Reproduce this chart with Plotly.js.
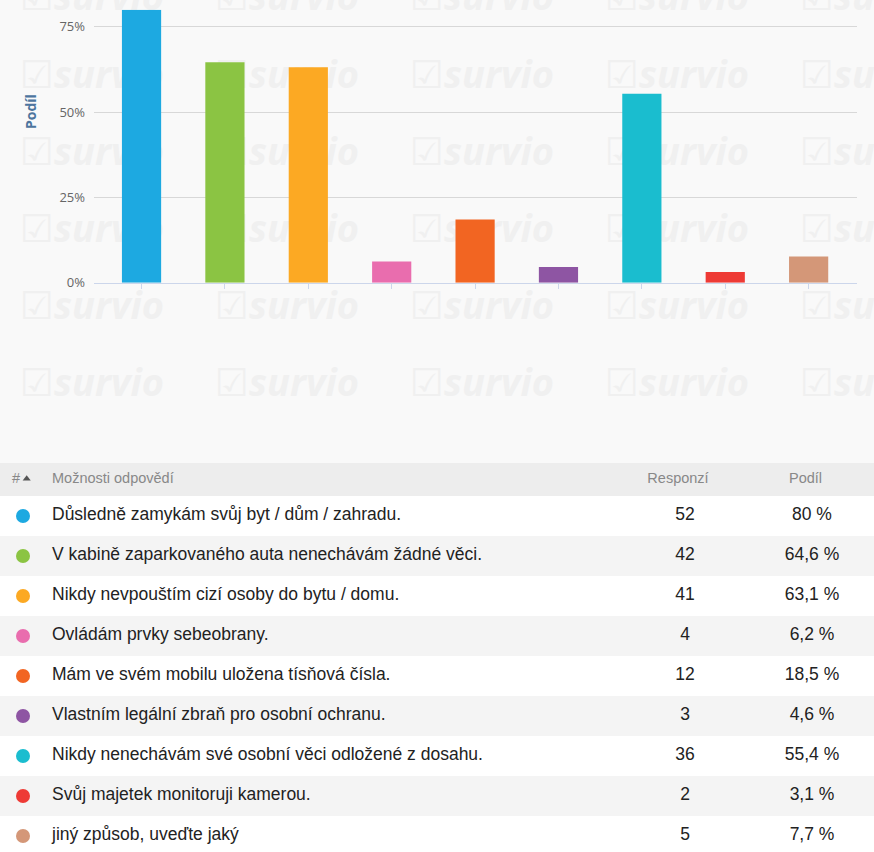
<!DOCTYPE html>
<html><head><meta charset="utf-8">
<script src="https://cdn.plot.ly/plotly-3.0.1.min.js"></script>
<style>html,body{margin:0;padding:0;background:#f9f9f9;overflow:hidden}</style>
</head><body><div id="chart" style="width:874px;height:852px"></div>
<script>
// ---- data ----
const categories = [
  'Důsledně zamykám svůj byt / dům / zahradu.',
  'V kabině zaparkovaného auta nenechávám žádné věci.',
  'Nikdy nevpouštím cizí osoby do bytu / domu.',
  'Ovládám prvky sebeobrany.',
  'Mám ve svém mobilu uložena tísňová čísla.',
  'Vlastním legální zbraň pro osobní ochranu.',
  'Nikdy nenechávám své osobní věci odložené z dosahu.',
  'Svůj majetek monitoruji kamerou.',
  'jiný způsob, uveďte jaký'
];
const responses = [52, 42, 41, 4, 12, 3, 36, 2, 5];
const shares = [80, 64.6, 63.1, 6.2, 18.5, 4.6, 55.4, 3.1, 7.7];
const colors = ['#1da9e1', '#8bc443', '#fca923', '#e96dae', '#f26522', '#8e55a3', '#1abdcf', '#ee3a35', '#d49778'];
const yTickVals = [0, 25, 50, 75];
const yTickText = ['0%', '25%', '50%', '75%'];
const headerLabels = ['#', 'Možnosti odpovědí', 'Responzí', 'Podíl'];
const axisTitle = 'Podíl';

// ---- layout helpers ----
const W = 874, H = 852;
const tableTop = 463;
const idx = categories.map((_, i) => i);
const fmtShare = v => String(v).replace('.', ',') + ' %';
const headerY = -0.9125;
const font = 'Liberation Sans, Arial, sans-serif';

// watermark (decorative background)
const wmX = [], wmY = [], wmT = [];
[20, 215, 410, 605, 800].forEach(x => [0, 78, 155, 232, 309, 386].forEach(y => {
  wmX.push(x); wmY.push(y); wmT.push('☑survio');
}));

const traces = [
  { type: 'scatter', mode: 'text', x: wmX, y: wmY, text: wmT, textposition: 'middle right',
    textfont: { family: 'Open Sans, DejaVu Sans, sans-serif', size: 38, color: '#f0f0f0', weight: 'bold', style: 'italic' },
    xaxis: 'x', yaxis: 'y', hoverinfo: 'skip', cliponaxis: true, showlegend: false },
  { type: 'bar', x: categories, y: shares, xaxis: 'x2', yaxis: 'y2', width: 0.47,
    marker: { color: colors, line: { width: 0 } }, hoverinfo: 'skip', showlegend: false },
  // table: dots
  { type: 'scatter', mode: 'markers', x: idx.map(() => 23), y: idx, xaxis: 'x3', yaxis: 'y3',
    marker: { size: 14, color: colors }, hoverinfo: 'skip', showlegend: false, cliponaxis: false },
  { type: 'scatter', mode: 'text', x: idx.map(() => 52), y: idx, text: categories, textposition: 'middle right',
    textfont: { family: font, size: 17.5, color: '#222' }, xaxis: 'x3', yaxis: 'y3', hoverinfo: 'skip', showlegend: false, cliponaxis: false },
  { type: 'scatter', mode: 'text', x: idx.map(() => 685), y: idx, text: responses.map(String), textposition: 'middle center',
    textfont: { family: font, size: 17.5, color: '#222' }, xaxis: 'x3', yaxis: 'y3', hoverinfo: 'skip', showlegend: false, cliponaxis: false },
  { type: 'scatter', mode: 'text', x: idx.map(() => 812), y: idx, text: shares.map(fmtShare), textposition: 'middle center',
    textfont: { family: font, size: 17.5, color: '#222' }, xaxis: 'x3', yaxis: 'y3', hoverinfo: 'skip', showlegend: false, cliponaxis: false },
  // header
  { type: 'scatter', mode: 'text', x: [12, 52], y: [headerY, headerY], text: headerLabels.slice(0, 2), textposition: 'middle right',
    textfont: { family: font, size: 14.5, color: '#888' }, xaxis: 'x3', yaxis: 'y3', hoverinfo: 'skip', showlegend: false, cliponaxis: false },
  { type: 'scatter', mode: 'text', x: [678, 805.5], y: [headerY, headerY], text: headerLabels.slice(2), textposition: 'middle center',
    textfont: { family: font, size: 14.5, color: '#888' }, xaxis: 'x3', yaxis: 'y3', hoverinfo: 'skip', showlegend: false, cliponaxis: false },
  { type: 'scatter', mode: 'markers', x: [26.7], y: [headerY - 0.02], xaxis: 'x3', yaxis: 'y3',
    marker: { symbol: 'triangle-up', size: 7, color: '#555' }, hoverinfo: 'skip', showlegend: false, cliponaxis: false }
];

const shapes = [{ type: 'rect', xref: 'x3', yref: 'y3', x0: 0, x1: W, y0: -1.4, y1: -0.5,
  fillcolor: '#ededed', line: { width: 0 }, layer: 'below' }];
idx.forEach(i => shapes.push({ type: 'rect', xref: 'x3', yref: 'y3', x0: 0, x1: W, y0: i - 0.5, y1: i + 0.5,
  fillcolor: i % 2 ? '#f4f4f4' : '#ffffff', line: { width: 0 }, layer: 'below' }));

const hidden = { visible: false, fixedrange: true };
const layout = {
  width: W, height: H, margin: { l: 0, r: 0, t: 0, b: 0 },
  paper_bgcolor: '#f9f9f9', plot_bgcolor: 'rgba(0,0,0,0)',
  showlegend: false, hovermode: false,
  xaxis: Object.assign({ domain: [0, 1], range: [0, W] }, hidden),
  yaxis: Object.assign({ domain: [1 - tableTop / H, 1], range: [tableTop, 0] }, hidden),
  xaxis2: { domain: [94 / W, 857 / W], range: [-0.57, 8.58], type: 'category', anchor: 'y2',
    showticklabels: false, ticks: 'outside', ticklen: 5, tickcolor: '#ccd6eb', tickwidth: 1,
    showgrid: false, showline: true, linecolor: '#ccd6eb', linewidth: 1, fixedrange: true },
  yaxis2: { domain: [1 - 282.7 / H, 1 - 9.7 / H], range: [0, 80], anchor: 'x2',
    tickmode: 'array', tickvals: yTickVals, ticktext: yTickText, showgrid: true, gridcolor: '#d8d8d8', gridwidth: 1,
    zeroline: false, ticks: '', ticklabelstandoff: 8,
    tickfont: { family: 'Open Sans, sans-serif', size: 13, color: '#666' }, fixedrange: true },
  xaxis3: Object.assign({ domain: [0, 1], range: [0, W], anchor: 'y3' }, hidden),
  yaxis3: Object.assign({ domain: [0, (H - tableTop) / H], range: [8.4, -1.325], anchor: 'x3' }, hidden),
  shapes: shapes,
  annotations: [{ text: axisTitle, xref: 'paper', yref: 'paper', x: 31 / W, y: 1 - 111 / H,
    showarrow: false, textangle: -90, xanchor: 'center', yanchor: 'middle',
    font: { family: 'Open Sans, sans-serif', size: 14, color: '#4d759e', weight: 'bold' } }]
};

Plotly.newPlot('chart', traces, layout, { staticPlot: true, displayModeBar: false });
</script></body></html>
